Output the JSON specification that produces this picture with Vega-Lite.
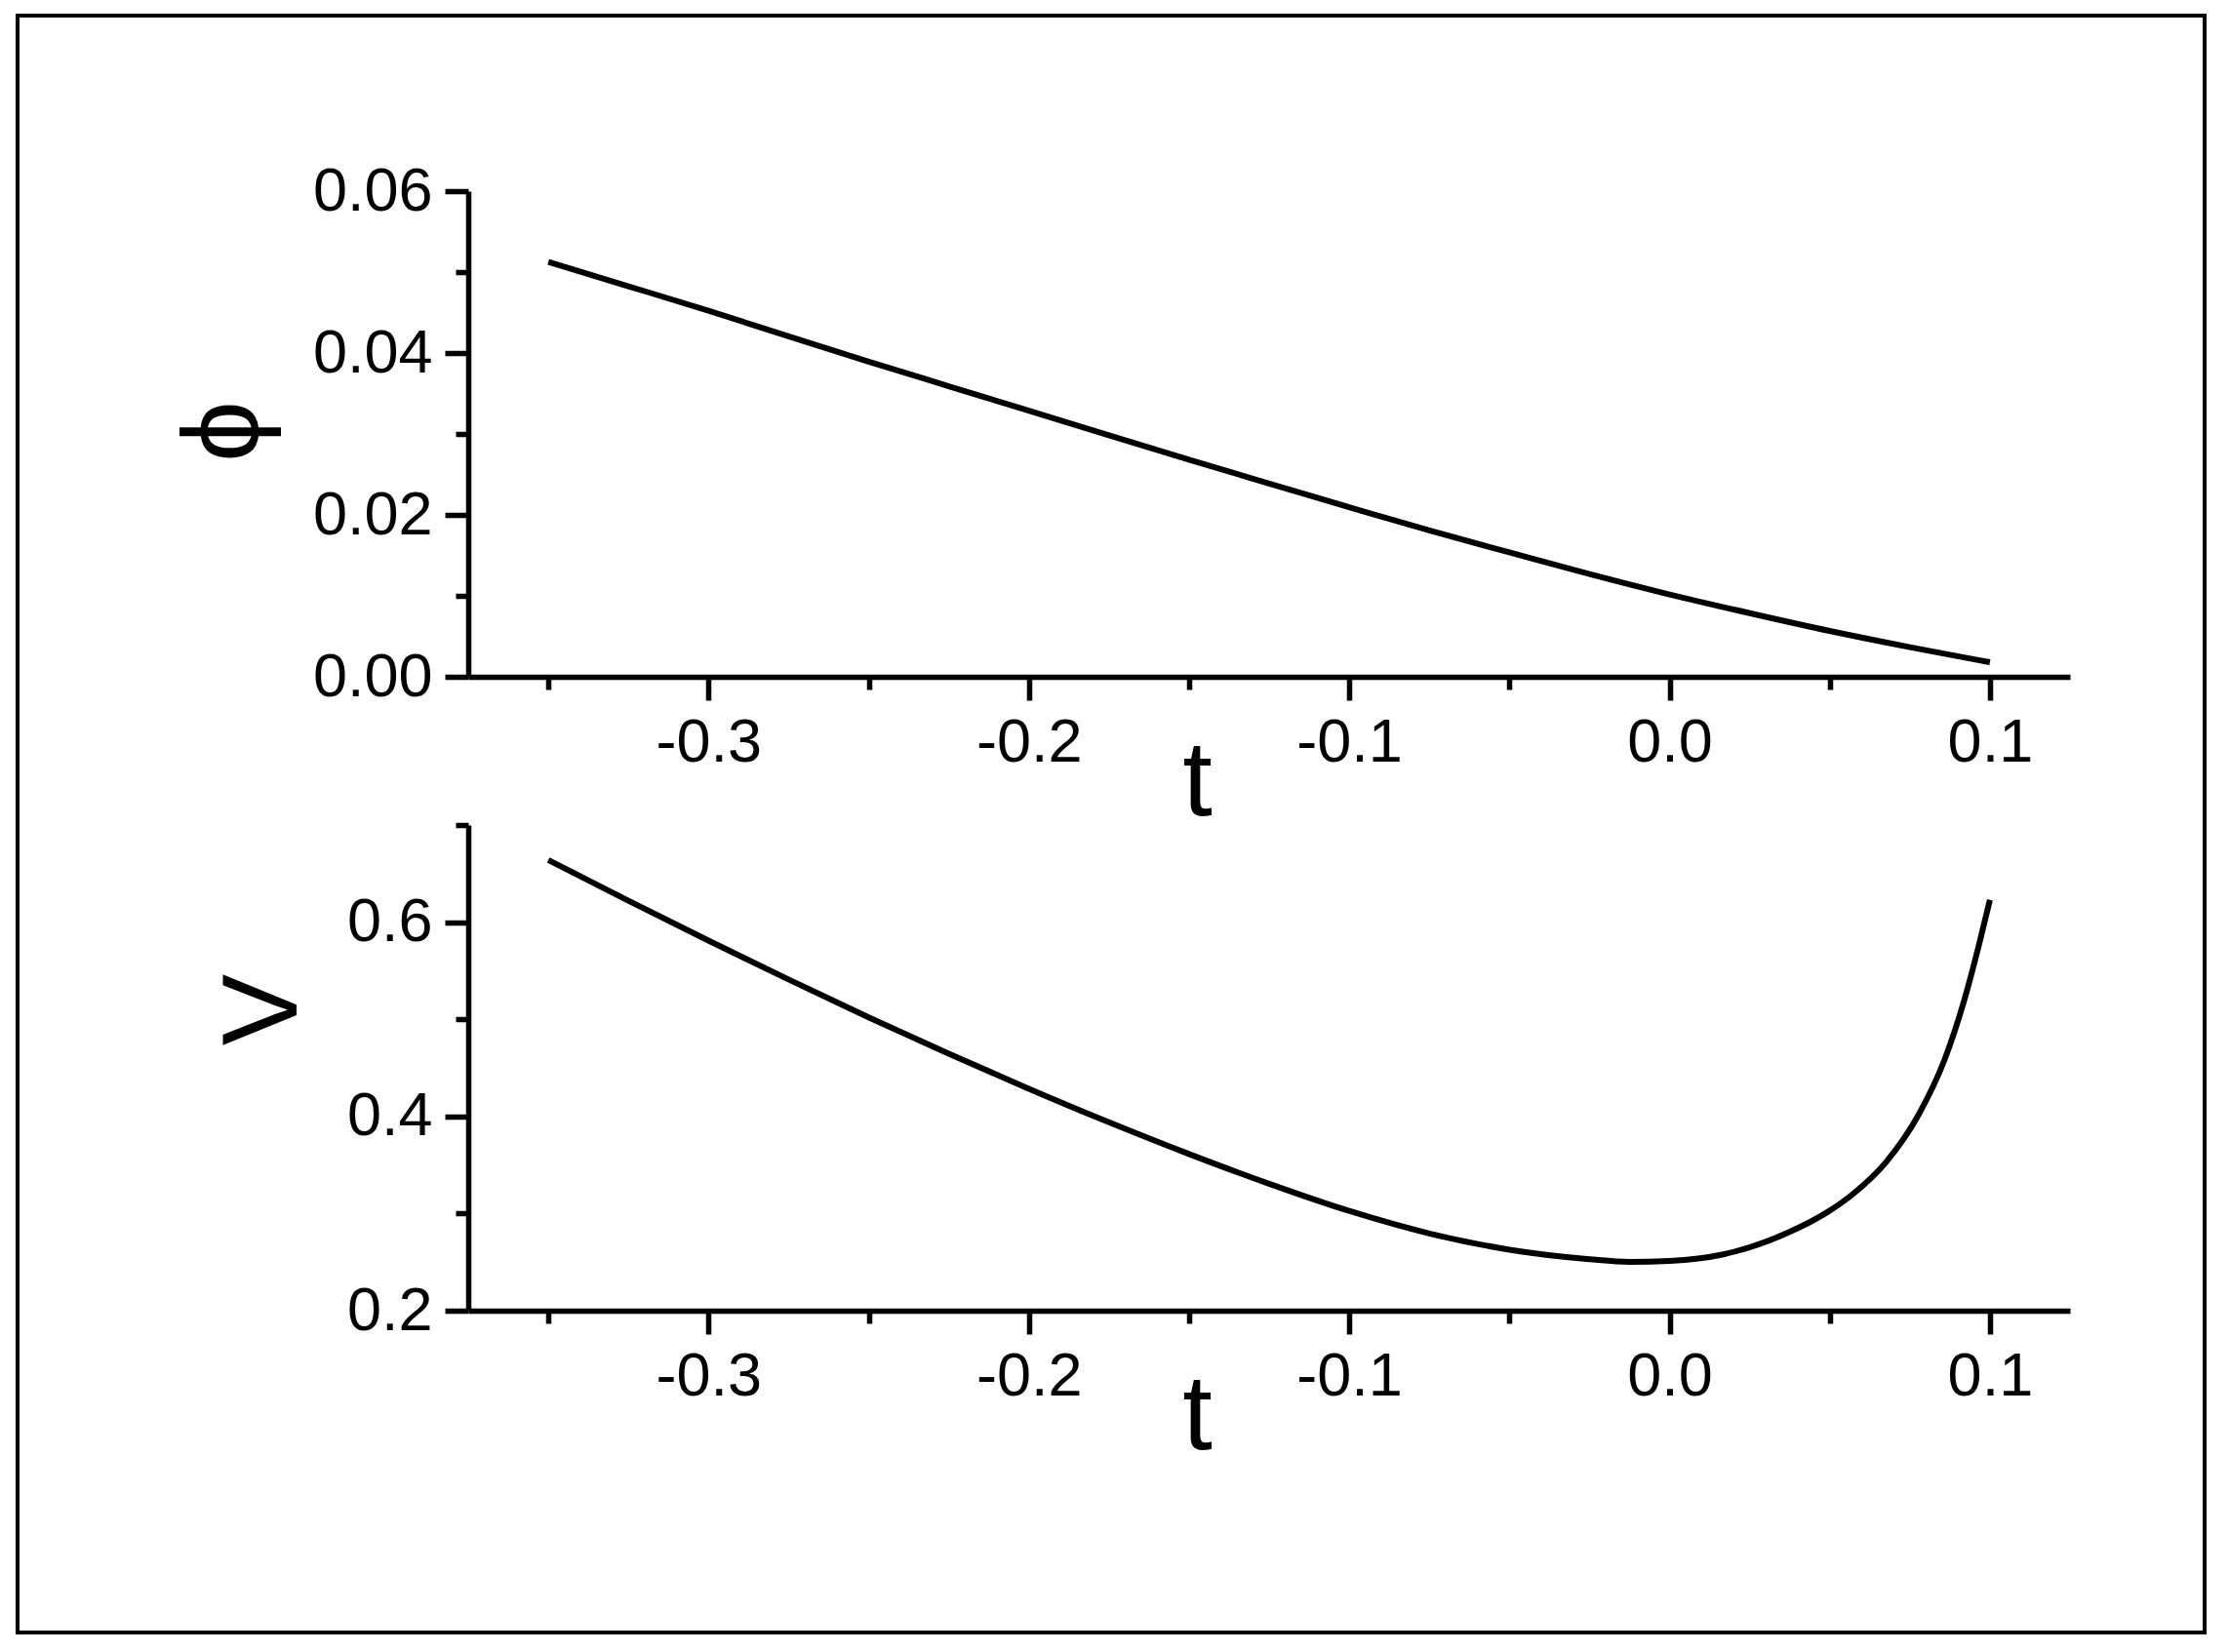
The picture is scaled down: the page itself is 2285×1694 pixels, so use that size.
{
  "$schema": "https://vega.github.io/schema/vega-lite/v6.json",
  "width": 2242,
  "height": 1658,
  "autosize": "none",
  "padding": {"left": 18, "top": 16, "right": 25, "bottom": 20},
  "background": "white",
  "config": {
    "view": {"stroke": "black", "strokeWidth": 4},
    "font": "Liberation Sans",
    "axis": {
      "grid": false,
      "domainColor": "black",
      "domainWidth": 5.5,
      "tickColor": "black",
      "tickWidth": 5.5,
      "labelFont": "Liberation Sans",
      "labelFontSize": 63,
      "labelColor": "black",
      "titleFont": "Liberation Sans",
      "titleFontSize": 110,
      "titleFontWeight": "normal",
      "titleColor": "black"
    }
  },
  "datasets": {
    "phi": [
      {"t": -0.35, "phi": 0.05125},
      {"t": -0.325, "phi": 0.04825},
      {"t": -0.3, "phi": 0.04522},
      {"t": -0.275, "phi": 0.04206},
      {"t": -0.25, "phi": 0.03894},
      {"t": -0.225, "phi": 0.0359},
      {"t": -0.2, "phi": 0.03287},
      {"t": -0.175, "phi": 0.02983},
      {"t": -0.15, "phi": 0.02683},
      {"t": -0.125, "phi": 0.02388},
      {"t": -0.1, "phi": 0.02096},
      {"t": -0.075, "phi": 0.01808},
      {"t": -0.05, "phi": 0.01537},
      {"t": -0.025, "phi": 0.01269},
      {"t": 0.0, "phi": 0.01017},
      {"t": 0.025, "phi": 0.00786},
      {"t": 0.05, "phi": 0.00566},
      {"t": 0.075, "phi": 0.00366},
      {"t": 0.1, "phi": 0.0018}
    ],
    "V": [
      {"t": -0.35, "V": 0.664},
      {"t": -0.325, "V": 0.622},
      {"t": -0.3, "V": 0.581},
      {"t": -0.275, "V": 0.541},
      {"t": -0.25, "V": 0.502},
      {"t": -0.225, "V": 0.4645},
      {"t": -0.2, "V": 0.4285},
      {"t": -0.175, "V": 0.394},
      {"t": -0.15, "V": 0.3613},
      {"t": -0.125, "V": 0.3307},
      {"t": -0.1, "V": 0.3027},
      {"t": -0.075, "V": 0.2795},
      {"t": -0.05, "V": 0.2628},
      {"t": -0.025, "V": 0.253},
      {"t": -0.0125, "V": 0.2502},
      {"t": 0.0, "V": 0.2512},
      {"t": 0.0168, "V": 0.258},
      {"t": 0.0371, "V": 0.2805},
      {"t": 0.0493, "V": 0.3015},
      {"t": 0.0574, "V": 0.3205},
      {"t": 0.0676, "V": 0.353},
      {"t": 0.0777, "V": 0.4015},
      {"t": 0.0858, "V": 0.458},
      {"t": 0.0919, "V": 0.5186},
      {"t": 0.0965, "V": 0.5755},
      {"t": 0.1, "V": 0.623}
    ]
  },
  "layer": [
    {
      "data": {"name": "phi"},
      "mark": {"type": "line", "color": "black", "strokeWidth": 6, "interpolate": "monotone"},
      "encoding": {
        "x": {
          "field": "t", "type": "quantitative",
          "scale": {"domain": [-0.375, 0.125], "range": [462, 2104], "nice": false, "zero": false},
          "axis": {
            "orient": "bottom", "offset": -980,
            "values": [-0.3, -0.2, -0.1, 0, 0.1], "format": ".1f",
            "labelExpr": "replace(datum.label, '\u2212', '-')",
            "tickSize": 24, "labelPadding": 12,
            "title": "t", "titleX": 1209, "titleY": 141, "titleAlign": "center", "titleBaseline": "alphabetic"
          }
        },
        "y": {
          "field": "phi", "type": "quantitative",
          "scale": {"domain": [0, 0.06], "range": [678, 180], "nice": false, "zero": false},
          "axis": {
            "orient": "left", "offset": -462,
            "values": [0, 0.02, 0.04, 0.06], "format": ".2f",
            "tickSize": 24, "labelPadding": 13,
            "title": "ϕ", "titleFontSize": 112, "titleX": -250, "titleY": 426, "titleAlign": "center", "titleBaseline": "middle", "titleAngle": 270
          }
        }
      }
    },
    {
      "data": {"name": "phi"},
      "mark": {"type": "point", "opacity": 0},
      "encoding": {
        "x": {
          "field": "t", "type": "quantitative",
          "scale": {"domain": [-0.375, 0.125], "range": [462, 2104], "nice": false, "zero": false},
          "axis": {
            "orient": "bottom", "offset": -980,
            "values": [-0.35, -0.25, -0.15, -0.05, 0.05],
            "tickSize": 13, "labels": false, "domain": false, "title": null
          }
        },
        "y": {
          "field": "phi", "type": "quantitative",
          "scale": {"domain": [0, 0.06], "range": [678, 180], "nice": false, "zero": false},
          "axis": {
            "orient": "left", "offset": -462,
            "values": [0.01, 0.03, 0.05],
            "tickSize": 13, "labels": false, "domain": false, "title": null
          }
        }
      }
    },
    {
      "data": {"name": "V"},
      "mark": {"type": "line", "color": "black", "strokeWidth": 6, "interpolate": "monotone"},
      "encoding": {
        "x": {
          "field": "t", "type": "quantitative",
          "scale": {"domain": [-0.375, 0.125], "range": [462, 2104], "nice": false, "zero": false},
          "axis": {
            "orient": "bottom", "offset": -330,
            "values": [-0.3, -0.2, -0.1, 0, 0.1], "format": ".1f",
            "labelExpr": "replace(datum.label, '\u2212', '-')",
            "tickSize": 24, "labelPadding": 12,
            "title": "t", "titleX": 1209, "titleY": 141, "titleAlign": "center", "titleBaseline": "alphabetic"
          }
        },
        "y": {
          "field": "V", "type": "quantitative",
          "scale": {"domain": [0.2, 0.7], "range": [1328, 830], "nice": false, "zero": false},
          "axis": {
            "orient": "left", "offset": -462,
            "values": [0.2, 0.4, 0.6], "format": ".1f",
            "tickSize": 24, "labelPadding": 13,
            "title": "V", "titleX": -210, "titleY": 1019, "titleAlign": "center", "titleBaseline": "middle", "titleAngle": 270
          }
        }
      }
    },
    {
      "data": {"name": "V"},
      "mark": {"type": "point", "opacity": 0},
      "encoding": {
        "x": {
          "field": "t", "type": "quantitative",
          "scale": {"domain": [-0.375, 0.125], "range": [462, 2104], "nice": false, "zero": false},
          "axis": {
            "orient": "bottom", "offset": -330,
            "values": [-0.35, -0.25, -0.15, -0.05, 0.05],
            "tickSize": 13, "labels": false, "domain": false, "title": null
          }
        },
        "y": {
          "field": "V", "type": "quantitative",
          "scale": {"domain": [0.2, 0.7], "range": [1328, 830], "nice": false, "zero": false},
          "axis": {
            "orient": "left", "offset": -462,
            "values": [0.3, 0.5, 0.7],
            "tickSize": 13, "labels": false, "domain": false, "title": null
          }
        }
      }
    }
  ],
  "resolve": {
    "scale": {"x": "independent", "y": "independent"},
    "axis": {"x": "independent", "y": "independent"}
  }
}
